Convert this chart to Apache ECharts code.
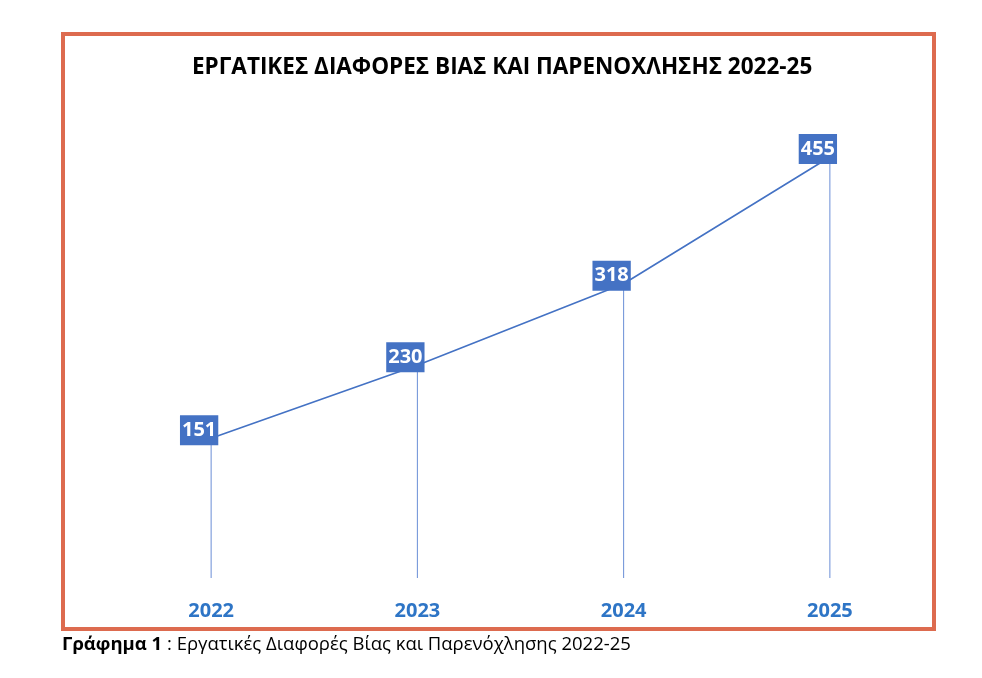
<!DOCTYPE html>
<html>
<head>
<meta charset="utf-8">
<script src="https://cdn.jsdelivr.net/npm/echarts@6/dist/echarts.min.js"></script>
<style>
  html, body { margin: 0; padding: 0; background: #fff; }
  #chart { width: 982px; height: 678px; }
</style>
</head>
<body>
<div id="chart"></div>
<script>
// δεδομένα
var years = ['2022', '2023', '2024', '2025']
var cases = [151, 230, 318, 455]

var blue = '#4472C4'
var chart = echarts.init(document.getElementById('chart'))
chart.setOption({
  backgroundColor: '#fff',
  animation: false,
  title: {
    text: 'ΕΡΓΑΤΙΚΕΣ ΔΙΑΦΟΡΕΣ ΒΙΑΣ ΚΑΙ ΠΑΡΕΝΟΧΛΗΣΗΣ 2022-25',
    left: 187,
    top: 51,
    textStyle: { fontFamily: 'Open Sans', fontWeight: 'bold', fontSize: 22.5, color: '#000' }
  },
  grid: { left: 108, right: 49, top: 157, bottom: 100 },
  xAxis: {
    type: 'category',
    data: years,
    axisLine: { show: false },
    axisTick: { show: false },
    axisLabel: {
      margin: 23,
      color: '#2E75C6',
      fontFamily: 'Open Sans',
      fontWeight: 'bold',
      fontSize: 20
    }
  },
  yAxis: { type: 'value', min: 0, max: 455, show: false, splitLine: { show: false } },
  series: [
    {
      // κάθετες γραμμές
      type: 'bar',
      data: cases,
      barWidth: 1,
      itemStyle: { color: '#6A8ED6' },
      silent: true
    },
    {
      type: 'line',
      data: cases,
      symbol: 'circle',
      symbolSize: 1,
      itemStyle: { color: blue },
      lineStyle: { color: blue, width: 1.6 },
      label: {
        show: true,
        position: 'inside',
        offset: [-12, -8],
        backgroundColor: blue,
        color: '#fff',
        fontFamily: 'Open Sans',
        fontWeight: 'bold',
        fontSize: 20,
        lineHeight: 24,
        padding: [3, 2, 3, 2]
      }
    }
  ],
  graphic: [
    {
      type: 'rect',
      shape: { x: 63, y: 34, width: 871, height: 595 },
      style: { fill: null, stroke: '#DD6B4F', lineWidth: 4 },
      z: 10
    },
    {
      type: 'text',
      left: 62,
      top: 635,
      style: {
        text: '{b|Γράφημα 1} : Εργατικές Διαφορές Βίας και Παρενόχλησης 2022-25',
        fontFamily: 'Open Sans',
        fontSize: 18.5,
        fill: '#000',
        rich: { b: { fontWeight: 'bold', fontFamily: 'Open Sans', fontSize: 18.5 } }
      }
    }
  ]
})
</script>
</body>
</html>
